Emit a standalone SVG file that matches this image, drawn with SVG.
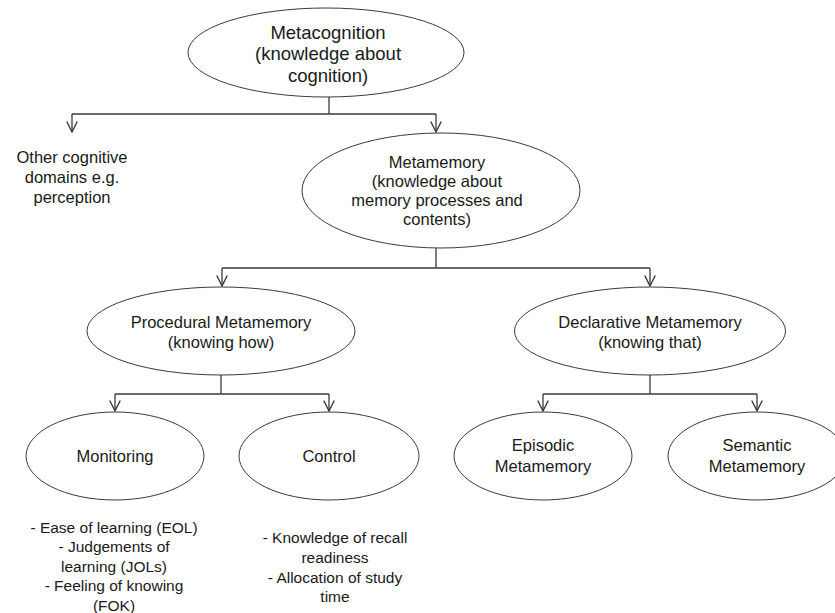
<svg xmlns="http://www.w3.org/2000/svg" width="835" height="613" viewBox="0 0 835 613">
<style>
  .node ellipse { fill: #ffffff; stroke: #3a3a3a; stroke-width: 1; }
  text { font-family: "Liberation Sans", Arial, sans-serif; fill: #1a1a1a; text-anchor: middle; }
  .t18 { font-size: 18.5px; }
  .t16 { font-size: 16.5px; }
  .t15 { font-size: 15.5px; }
  .conn path { fill: none; stroke: #3a3a3a; stroke-width: 1.3; }
</style>
<defs>
  <marker id="arr" markerUnits="userSpaceOnUse" markerWidth="14" markerHeight="14" refX="10" refY="5" orient="auto" viewBox="0 0 12 10">
    <path d="M1,0.5 L10,5 L1,9.5" fill="none" stroke="#3a3a3a" stroke-width="1.2"/>
  </marker>
</defs>
<rect width="835" height="613" fill="#ffffff"/>

<g class="conn" id="connectors">
  <path d="M329,97 V114"/>
  <path d="M72,114 H436"/>
  <path d="M72,114 V132" marker-end="url(#arr)"/>
  <path d="M436,114 V132" marker-end="url(#arr)"/>
  <path d="M436,248 V268"/>
  <path d="M222,268 H650"/>
  <path d="M222,268 V286" marker-end="url(#arr)"/>
  <path d="M650,268 V286" marker-end="url(#arr)"/>
  <path d="M221,375 V394"/>
  <path d="M115,394 H329"/>
  <path d="M115,394 V411" marker-end="url(#arr)"/>
  <path d="M329,394 V411" marker-end="url(#arr)"/>
  <path d="M650,375 V394"/>
  <path d="M543,394 H757"/>
  <path d="M543,394 V411" marker-end="url(#arr)"/>
  <path d="M757,394 V411" marker-end="url(#arr)"/>
</g>

<g class="node" id="metacognition">
  <ellipse cx="326" cy="52.5" rx="138" ry="44.5"/>
  <text class="t18" x="328" y="38.5">Metacognition</text>
  <text class="t18" x="328" y="60">(knowledge about</text>
  <text class="t18" x="328" y="81.5">cognition)</text>
</g>

<g class="node" id="other-domains">
  <text class="t16" x="72" y="163">Other cognitive</text>
  <text class="t16" x="72" y="183">domains e.g.</text>
  <text class="t16" x="72" y="203">perception</text>
</g>

<g class="node" id="metamemory">
  <ellipse cx="441" cy="190.5" rx="139" ry="57.5"/>
  <text class="t16" x="437" y="168">Metamemory</text>
  <text class="t16" x="437" y="187">(knowledge about</text>
  <text class="t16" x="437" y="206">memory processes and</text>
  <text class="t16" x="437" y="225">contents)</text>
</g>

<g class="node" id="procedural">
  <ellipse cx="221" cy="331" rx="134" ry="44"/>
  <text class="t16" x="221" y="328">Procedural Metamemory</text>
  <text class="t16" x="221" y="348">(knowing how)</text>
</g>

<g class="node" id="declarative">
  <ellipse cx="650" cy="331" rx="135.5" ry="44"/>
  <text class="t16" x="650" y="328">Declarative Metamemory</text>
  <text class="t16" x="650" y="348">(knowing that)</text>
</g>

<g class="node" id="monitoring">
  <ellipse cx="115" cy="456" rx="89" ry="44"/>
  <text class="t16" x="115" y="462">Monitoring</text>
</g>

<g class="node" id="control">
  <ellipse cx="329" cy="456" rx="90" ry="44"/>
  <text class="t16" x="329" y="462">Control</text>
</g>

<g class="node" id="episodic">
  <ellipse cx="543" cy="456" rx="89" ry="44"/>
  <text class="t16" x="543" y="451">Episodic</text>
  <text class="t16" x="543" y="472">Metamemory</text>
</g>

<g class="node" id="semantic">
  <ellipse cx="757" cy="456" rx="89" ry="44"/>
  <text class="t16" x="757" y="451">Semantic</text>
  <text class="t16" x="757" y="472">Metamemory</text>
</g>

<g class="node" id="monitoring-list">
  <text class="t15" x="114" y="532.5">- Ease of learning (EOL)</text>
  <text class="t15" x="114" y="552">- Judgements of</text>
  <text class="t15" x="114" y="571.5">learning (JOLs)</text>
  <text class="t15" x="114" y="591">- Feeling of knowing</text>
  <text class="t15" x="114" y="610.5">(FOK)</text>
</g>

<g class="node" id="control-list">
  <text class="t15" x="335" y="542.5">- Knowledge of recall</text>
  <text class="t15" x="335" y="562.5">readiness</text>
  <text class="t15" x="335" y="582.5">- Allocation of study</text>
  <text class="t15" x="335" y="601.5">time</text>
</g>
</svg>
